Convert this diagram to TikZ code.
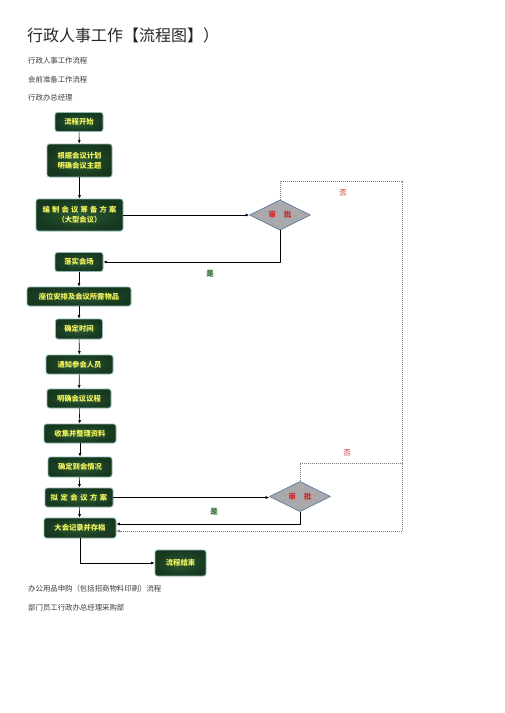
\documentclass[tikz,border=0pt]{standalone}
\usepackage{fontspec}
\setmainfont{Noto Sans CJK SC}
\usetikzlibrary{arrows.meta,shapes.geometric}
\definecolor{boxgreen}{HTML}{2C5A35}
\definecolor{boxdark}{HTML}{16381F}
\definecolor{boxrim}{HTML}{8DB9B2}
\definecolor{boxtext}{HTML}{F4F45C}
\definecolor{diagrey}{HTML}{A9A9AB}
\definecolor{diarim}{HTML}{5C7DA2}
\definecolor{nored}{HTML}{D02828}
\definecolor{yesgreen}{HTML}{2F6A34}
\definecolor{loopgrey}{HTML}{7A7A7A}
\definecolor{bodytext}{HTML}{3A3A3A}

\begin{document}
\begin{tikzpicture}[
  x=1pt, y=-1pt,
  line join=round,
  stepbox/.style={draw=boxrim, line width=0.8pt, rounded corners=2.5pt,
    inner color=boxgreen, outer color=boxdark, text=boxtext,
    font=\bfseries\fontsize{7.3}{10}\selectfont, align=center,
    minimum height=19pt, inner sep=1pt},
  check/.style={diamond, draw=diarim, line width=0.7pt, fill=diagrey,
    text=nored, font=\bfseries\fontsize{7.5}{9}\selectfont,
    minimum width=61pt, minimum height=29pt, inner sep=0pt},
  flow/.style={line width=0.6pt, -{Latex[length=3.5pt,width=3pt]}},
  loop/.style={line width=0.5pt, loopgrey, dash pattern=on 1pt off 1pt},
  nolbl/.style={text=nored, font=\fontsize{7.5}{9}\selectfont},
  yeslbl/.style={text=yesgreen, font=\bfseries\fontsize{7.5}{9}\selectfont},
  txt/.style={anchor=west, text=bodytext, font=\fontsize{7.4}{9}\selectfont, inner sep=0pt},
]
\useasboundingbox (0,0) rectangle (504,713);

% ── heading and the lines of text round the chart ─────────────────────────
\node[anchor=west, inner sep=0pt, font=\fontsize{16}{18}\selectfont, text=black!85]
  (title) at (27,35) {行政人事工作【流程图】）};
\node[txt] (line1) at (28,61) {行政人事工作流程};
\node[txt] (line2) at (28,80) {会前准备工作流程};
\node[txt] (line3) at (28,98) {行政办总经理};
\node[txt] (line4) at (28,589) {办公用品申购（包括招商物料印刷）流程};
\node[txt] (line5) at (28,608) {部门员工行政办总经理采购部};

% ── the steps, top to bottom ──────────────────────────────────────────────
\node[stepbox, minimum width=48pt] (start) at (79,122) {流程开始};
\node[stepbox, minimum width=65pt, minimum height=33pt] (theme) at (79.5,160.5)
  {根据会议计划\\明确会议主题};
\node[stepbox, minimum width=87pt, minimum height=32pt] (prep) at (79.5,215)
  {\addfontfeature{LetterSpace=30}编制会议筹备方案\\（大型会议）};
\node[stepbox, minimum width=48pt] (venue) at (79,262) {落实会场};
\node[stepbox, minimum width=104pt] (seats) at (79,296.5) {座位安排及会议所需物品};
\node[stepbox, minimum width=47pt, minimum height=20pt] (time) at (79,329) {确定时间};
\node[stepbox, minimum width=67pt] (notify) at (79.5,364.5) {通知参会人员};
\node[stepbox, minimum width=64pt] (agenda) at (79,398.5) {明确会议议程};
\node[stepbox, minimum width=72pt] (collect) at (80,433.5) {收集并整理资料};
\node[stepbox, minimum width=64pt, minimum height=20pt] (attend) at (80,467) {确定到会情况};
\node[stepbox, minimum width=68pt] (draft) at (79,497.5)
  {\addfontfeature{LetterSpace=35}拟定会议方案};
\node[stepbox, minimum width=72pt, minimum height=20pt] (archive) at (80,528) {大会记录并存档};
\node[stepbox, minimum width=51pt, minimum height=26pt] (finish) at (180.5,563) {流程结束};

% ── the two approvals ─────────────────────────────────────────────────────
\node[check] (chk1) at (280,215) {审\hspace{8pt}批};
\node[check] (chk2) at (300,496.5) {审\hspace{8pt}批};

\coordinate (rimtop) at (402,181);
\coordinate (rimmid) at (402,463);
\coordinate (rimbot) at (402,531);

% ── main line ─────────────────────────────────────────────────────────────
\draw[flow] (start) -- (theme);
\draw[flow] (theme) -- (prep);
\draw[flow] (prep.east) -- (chk1.west);
\draw[flow] (chk1.south) |- (venue.east);
\draw[flow] (venue) -- (seats);
\draw[flow] (seats) -- (time);
\draw[flow] (time) -- (notify);
\draw[flow] (notify) -- (agenda);
\draw[flow] (agenda) -- (collect);
\draw[flow] (collect) -- (attend);
\draw[flow] (attend) -- (draft);
\draw[flow] (draft.east) -- (chk2.west |- draft.east);
\draw[flow] (chk2.south) |- ([yshift=4pt]archive.east);
\draw[flow] (draft) -- (archive);
\draw[flow] (archive.south) |- (finish.west);

% ── refusals, dotted, back to the record ──────────────────────────────────
\draw[loop] (chk1.north) |- (rimtop) -- (rimbot);
\draw[loop, -{Latex[length=3.5pt,width=3pt]}] (rimbot) -- ([yshift=-3pt]archive.east);
\draw[loop] (chk2.north) |- (rimmid);

\node[nolbl] (no1) at (343,193) {否};
\node[yeslbl] (yes1) at (210,274) {是};
\node[nolbl] (no2) at (347,453) {否};
\node[yeslbl] (yes2) at (214,512) {是};

\end{tikzpicture}
\end{document}
